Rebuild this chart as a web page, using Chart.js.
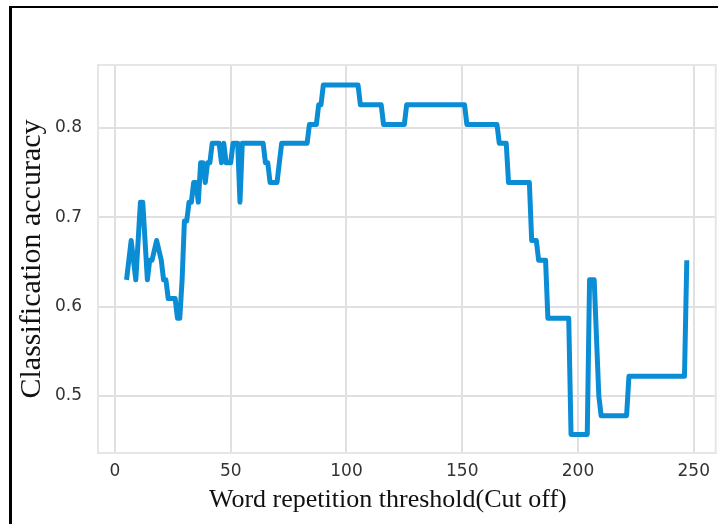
<!DOCTYPE html>
<html>
<head>
<meta charset="utf-8">
<script src="https://cdn.jsdelivr.net/npm/chart.js@4.4.0/dist/chart.umd.min.js"></script>
<style>
html,body{margin:0;padding:0;background:#fff;}
#wrap{position:relative;width:718px;height:524px;overflow:hidden;background:#fff;}
#c{position:absolute;left:0;top:0;}
#frame{position:absolute;left:9px;top:6px;right:-4px;bottom:-4px;border-left:3px solid #000;border-top:2px solid #000;pointer-events:none;}
</style>
</head>
<body>
<div id="wrap"><canvas id="c" width="718" height="524"></canvas><div id="frame"></div></div>
<script>
// Word repetition threshold (cut off) values
const thresholds = [5, 7, 9, 11, 12, 14, 15, 16, 18, 20, 21, 22, 23, 26, 27, 28, 29, 30, 31, 32,
  33, 34, 35, 36, 37, 38, 39, 40, 41, 42, 45, 46, 47, 48, 50, 51, 53, 54, 55, 64,
  65, 66, 67, 70, 71, 72, 83, 84, 87, 88, 89, 90, 105, 106, 115, 116, 125, 126, 151, 152,
  165, 166, 169, 170, 179, 180, 182, 183, 186, 187, 196, 197, 204, 205, 207, 209, 210, 221, 222, 246,
  247];
// Classification accuracy at each threshold
const accuracy = [0.630, 0.674, 0.630, 0.717, 0.717, 0.630, 0.652, 0.652, 0.674, 0.652, 0.630, 0.630, 0.609, 0.609, 0.587, 0.587, 0.630, 0.696, 0.696, 0.717,
  0.717, 0.739, 0.739, 0.717, 0.761, 0.761, 0.739, 0.761, 0.761, 0.783, 0.783, 0.761, 0.783, 0.761, 0.761, 0.783, 0.783, 0.717, 0.783, 0.783,
  0.761, 0.761, 0.739, 0.739, 0.761, 0.783, 0.783, 0.804, 0.804, 0.826, 0.826, 0.848, 0.848, 0.826, 0.826, 0.804, 0.804, 0.826, 0.826, 0.804,
  0.804, 0.783, 0.783, 0.739, 0.739, 0.674, 0.674, 0.652, 0.652, 0.587, 0.587, 0.457, 0.457, 0.630, 0.630, 0.500, 0.478, 0.478, 0.522, 0.522,
  0.652];
const xTicks = [0, 50, 100, 150, 200, 250];
const yTicks = [0.5, 0.6, 0.7, 0.8];
const xTitle = 'Word repetition threshold(Cut off)';
const yTitle = 'Classification accuracy';

const points = thresholds.map((x, i) => ({x: x, y: accuracy[i]}));

const framePlugin = {
  id: 'frame',
  beforeDatasetsDraw(chart) {
    const a = chart.chartArea, ctx = chart.ctx;
    ctx.save();
    ctx.strokeStyle = '#e6e6e6';
    ctx.lineWidth = 2;
    ctx.strokeRect(a.left, a.top, a.right - a.left, a.bottom - a.top);
    ctx.restore();
  }
};

// x-axis title, centred slightly left of the plot centre as in the original figure
const xTitlePlugin = {
  id: 'xTitle',
  afterDraw(chart) {
    const ctx = chart.ctx, a = chart.chartArea;
    ctx.save();
    ctx.font = '26px "Liberation Serif"';
    ctx.fillStyle = '#111';
    ctx.textAlign = 'center';
    ctx.textBaseline = 'middle';
    ctx.fillText(xTitle, (a.left + a.right) / 2 - 19, a.bottom + 47);
    ctx.restore();
  }
};

new Chart(document.getElementById('c'), {
  type: 'scatter',
  data: {
    datasets: [{
      data: points,
      showLine: true,
      borderColor: '#0a8dd5',
      backgroundColor: '#0a8dd5',
      borderWidth: 5,
      pointRadius: 0,
      tension: 0,
      fill: false,
      borderJoinStyle: 'round'
    }]
  },
  options: {
    responsive: false,
    animation: false,
    events: [],
    layout: {padding: {top: 65, right: 1, left: 0, bottom: 0}},
    plugins: {legend: {display: false}, tooltip: {enabled: false}},
    scales: {
      x: {
        type: 'linear',
        min: -7.33,
        max: 259.5,
        afterBuildTicks: s => { s.ticks = xTicks.map(v => ({value: v})); },
        afterFit: s => { s.height = 71; },
        grid: {color: '#e0e0e0', lineWidth: 2, drawTicks: false},
        border: {display: false},
        ticks: {padding: 8, color: '#333', font: {family: 'DejaVu Sans', size: 17}, maxRotation: 0, autoSkip: false},
        title: {display: false, text: xTitle}
      },
      y: {
        type: 'linear',
        min: 0.4362,
        max: 0.8705,
        afterBuildTicks: s => { s.ticks = yTicks.map(v => ({value: v})); },
        afterFit: s => { s.width = 98; },
        grid: {color: '#e0e0e0', lineWidth: 2, drawTicks: false},
        border: {display: false},
        ticks: {padding: 16, color: '#333', font: {family: 'DejaVu Sans', size: 17}, callback: v => v.toFixed(1)},
        title: {display: true, text: yTitle, color: '#111', font: {family: 'Liberation Serif', size: 30}, padding: {top: 14, bottom: 0}}
      }
    }
  },
  plugins: [framePlugin, xTitlePlugin]
});
</script>
</body>
</html>
